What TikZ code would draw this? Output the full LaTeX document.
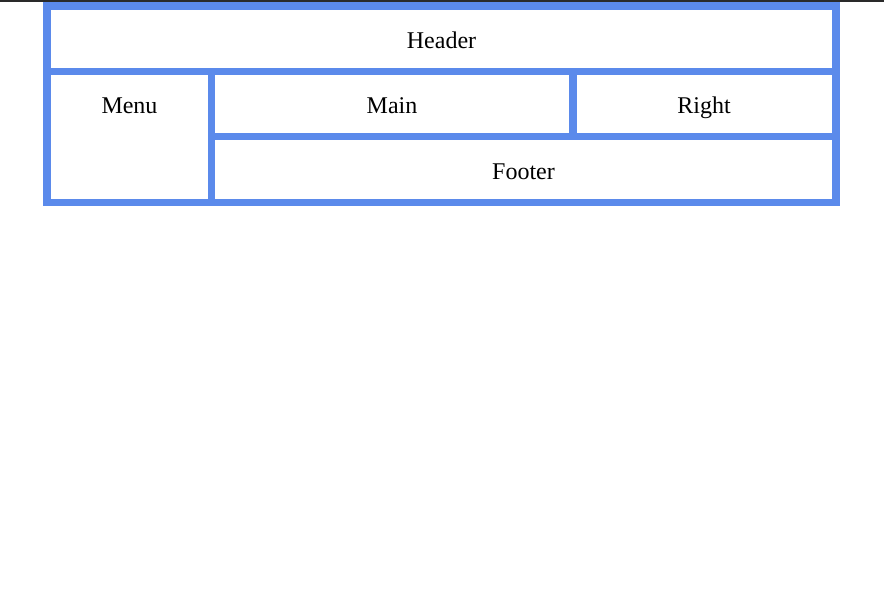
\documentclass[tikz,border=0pt]{standalone}
\usepackage{fontspec}
\setmainfont{Liberation Serif}
\definecolor{gridblue}{HTML}{5B8AEB}
\definecolor{topbar}{HTML}{2A2A2A}
\begin{document}
\begin{tikzpicture}[x=1pt,y=-1pt,
  cell/.style={fill=white, draw=none, inner sep=0pt, anchor=base, font=\fontsize{24}{28}\selectfont},
  frame/.style={fill=gridblue, draw=none}]
\useasboundingbox (0,0) rectangle (884,599);
\fill[white] (0,0) rectangle (884,599);
\fill[topbar] (0,0) rectangle (884,2);
\fill[frame] (43,2) rectangle (840,206);
% cells
\fill[white] (51,10) rectangle (832,68);
\node[cell] (header) at (441.5,49) {Header};
\fill[white] (51,75) rectangle (208,199);
\node[cell] (menu) at (129.5,113.5) {Menu};
\fill[white] (215,75) rectangle (569,133);
\node[cell] (main) at (392,113.5) {Main};
\fill[white] (577,75) rectangle (832,133);
\node[cell] (right) at (704,113.5) {Right};
\fill[white] (215,140) rectangle (832,199);
\node[cell] (footer) at (523.5,179) {Footer};
\end{tikzpicture}
\end{document}
